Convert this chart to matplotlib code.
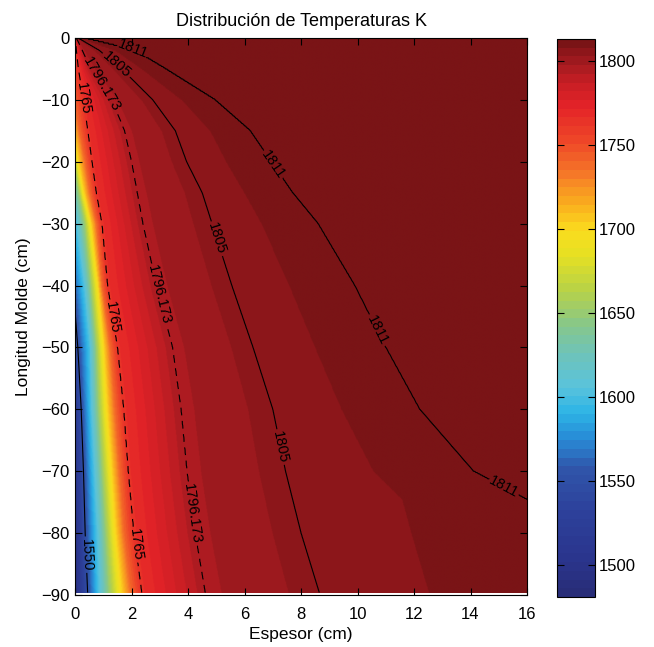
import numpy as np
import matplotlib
matplotlib.use("Agg")
import matplotlib.pyplot as plt
from matplotlib.colors import LinearSegmentedColormap, ListedColormap

plt.rcParams['font.family'] = ['Liberation Sans', 'DejaVu Sans']

left_y = [0, -5, -11, -17, -22, -29.5, -44, -50, -60, -70, -80, -90]
left_t = [1760, 1757, 1740, 1700, 1650, 1600, 1550, 1540, 1520, 1508, 1498, 1490]
right_y = [0, -30, -60, -74.6, -90]
right_t = [1812.8, 1812.2, 1811.6, 1811.0, 1810.3]

# isotherm paths: depth (cm) and thickness position (cm)
iso_levels = [1550, 1600, 1650, 1700, 1740, 1765, 1796.173, 1805, 1811]
full_y = [0, -2, -5, -10, -15, -20, -25, -30, -40, -50, -60, -70, -80, -90]
y_1550 = [-44, -50, -60, -70, -80, -90]
x_1550 = [0.0, 0.10, 0.22, 0.30, 0.36, 0.45]
y_1600 = [-29.5, -40, -50, -60, -70, -80, -90]
x_1600 = [0.0, 0.30, 0.50, 0.55, 0.65, 0.75, 0.82]
y_1650 = [-22, -25, -30, -40, -50, -60, -70, -80, -90]
x_1650 = [0.0, 0.12, 0.33, 0.55, 0.74, 0.82, 0.95, 1.08, 1.20]
y_1700 = [-17, -20, -25, -30, -40, -50, -60, -70, -80, -90]
x_1700 = [0.0, 0.10, 0.30, 0.55, 0.80, 1.00, 1.12, 1.28, 1.42, 1.63]
y_1740 = [-11, -15, -20, -25, -30, -40, -50, -60, -70, -80, -90]
x_1740 = [0.0, 0.15, 0.36, 0.52, 0.76, 0.95, 1.25, 1.42, 1.58, 1.74, 2.00]
y_1765 = full_y
x_1765 = [0.01, 0.05, 0.12, 0.30, 0.45, 0.60, 0.75, 0.95, 1.15, 1.50, 1.72, 1.88, 2.08, 2.37]
y_1796 = full_y
x_1796 = [0.04, 0.25, 0.55, 1.30, 1.75, 2.00, 2.20, 2.40, 2.88, 3.45, 3.75, 3.96, 4.25, 4.62]
y_1805 = full_y
x_1805 = [0.10, 0.85, 1.65, 2.75, 3.55, 3.95, 4.50, 4.85, 5.55, 6.30, 7.00, 7.45, 8.00, 8.67]
y_1811 = [0, -2, -5, -10, -15, -20, -25, -30, -40, -50, -60, -70, -74.6]
x_1811 = [0.30, 2.10, 3.20, 4.95, 6.20, 6.95, 7.70, 8.60, 9.90, 11.00, 12.20, 14.10, 16.0]
iso_paths = [(y_1550, x_1550), (y_1600, x_1600), (y_1650, x_1650), (y_1700, x_1700),
             (y_1740, x_1740), (y_1765, x_1765), (y_1796, x_1796), (y_1805, x_1805),
             (y_1811, x_1811)]

# drawn contours
contour_levels = [1550, 1765, 1796.173, 1805, 1811]
contour_styles = ['solid', (0, (7, 5)), (0, (7, 5)), 'solid', 'solid']
contour_text = ['1550', '1765', '1796.173', '1805', '1811']
label_pos = {
    1550: [(0.28, -83.5)],
    1765: [(0.32, -9.7), (1.2, -45.2), (1.95, -81.9)],
    1796.173: [(1.0, -7.3), (2.97, -41.5), (4.18, -76.8)],
    1805: [(1.5, -4.2), (4.81, -32.8), (7.26, -66.1)],
    1811: [(2.05, -1.9), (6.97, -20.5), (10.7, -47.2), (15.0, -73.8)],
}

x_ticks = [0, 2, 4, 6, 8, 10, 12, 14, 16]
y_ticks = [0, -10, -20, -30, -40, -50, -60, -70, -80, -90]
cb_ticks = [1500, 1550, 1600, 1650, 1700, 1750, 1800]
vmin, vmax = 1481, 1813

# muted jet colour map
cstops = [
    (1481, (40, 45, 120)), (1500, (42, 52, 140)), (1530, (45, 65, 155)),
    (1555, (48, 85, 170)), (1575, (40, 140, 215)), (1590, (45, 180, 230)),
    (1605, (90, 195, 220)), (1625, (110, 195, 185)), (1645, (140, 200, 130)),
    (1665, (185, 210, 70)), (1685, (230, 225, 35)), (1700, (250, 220, 30)),
    (1715, (250, 175, 30)), (1735, (245, 120, 40)), (1755, (238, 70, 40)),
    (1775, (228, 35, 40)), (1790, (198, 30, 36)), (1800, (165, 27, 32)),
    (1808, (140, 22, 26)), (1813, (122, 20, 22)),
]
base = LinearSegmentedColormap.from_list(
    'mjet', [((v - vmin) / (vmax - vmin), tuple(c / 255 for c in rgb)) for v, rgb in cstops])
cmap = ListedColormap(base(np.linspace(0, 1, 64)))

# build the temperature table from the read isotherm paths
xg = np.linspace(0, 16, 801)
yg = np.linspace(0, -89.6, 449)
T = np.empty((len(yg), len(xg)))
for r, yy in enumerate(yg):
    kx = [0.0]
    kt = [np.interp(-yy, -np.array(left_y), left_t)]
    for lev, (py, px) in zip(iso_levels, iso_paths):
        py = np.array(py, dtype=float)
        if -yy < -py.max() or -yy > -py.min():
            continue
        xv = np.interp(-yy, -py, px)
        if kx[-1] < xv < 16.0 and lev > kt[-1]:
            kx.append(xv)
            kt.append(lev)
    kx.append(16.0)
    kt.append(max(np.interp(-yy, -np.array(right_y), right_t), kt[-1] + 1e-3))
    T[r] = np.interp(xg, kx, kt)

fs = 12
fig = plt.figure(figsize=(6.54, 6.47), dpi=100)
ax = fig.add_axes([75 / 654, 1 - 595 / 647, 452 / 654, 557 / 647])
im = ax.imshow(T, extent=[0, 16, -89.6, 0], origin='upper', aspect='auto',
               cmap=cmap, vmin=vmin, vmax=vmax, interpolation='bilinear')
X, Y = np.meshgrid(xg, yg)
for lev, ls, txt in zip(contour_levels, contour_styles, contour_text):
    cs = ax.contour(X, Y, T, levels=[lev], colors='k', linewidths=0.8,
                    linestyles=[ls])
    cs.clabel(fmt={lev: txt}, fontsize=10.5, inline=True, inline_spacing=2,
              manual=label_pos[lev])

ax.set_xlim(0, 16)
ax.set_ylim(-90, 0)
ax.set_xticks(x_ticks)
ax.set_yticks(y_ticks)
ax.tick_params(direction='in', length=5, top=True, right=True, labelsize=fs)
ax.tick_params(axis='x', pad=8.5)
ax.tick_params(axis='y', pad=4)
ax.set_title('Distribución de Temperaturas K', fontsize=13, pad=9)
ax.set_xlabel('Espesor (cm)', fontsize=12.5, labelpad=4)
ax.set_ylabel('Longitud Molde (cm)', fontsize=12.5, labelpad=7)

cax = fig.add_axes([557 / 654, 1 - 597 / 647, 38 / 654, 558 / 647])
cb = fig.colorbar(im, cax=cax, ticks=cb_ticks)
cax.tick_params(direction='in', length=5, left=True, right=True, labelsize=fs, pad=3)
cb.outline.set_linewidth(0.8)

fig.savefig('out.png', dpi=100)
